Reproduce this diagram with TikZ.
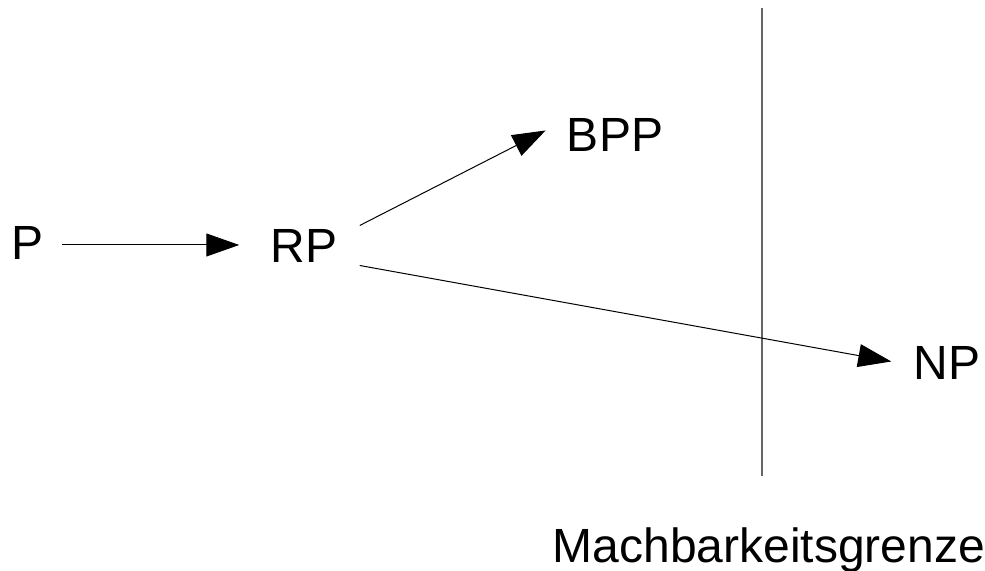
\documentclass[tikz,border=0pt]{standalone}
\usepackage{fontspec}
\setmainfont{Liberation Sans}
\usetikzlibrary{arrows.meta, positioning, calc}

\begin{document}
\begin{tikzpicture}[
	  x=0.5pt, y=-0.5pt,
	  font=\fontsize{24}{29}\selectfont,
	  cls/.style={inner sep=0pt, anchor=base},
	  arrow/.style={-{Triangle[length=16.5pt,width=11.5pt]}, line width=0.5pt},
	  border/.style={line width=0.6pt, draw=black!60}
	]
	\useasboundingbox (0,0) rectangle (985,571);
	
	% Complexity classes
	\node[cls] (p) at (28,260) {P};
	\node[cls] (rp) at (304,263) {RP};
	\node[cls] (bpp) at (615,152) {BPP};
	\node[cls] (np) at (947,380) {NP};
	\node[cls] (grenze) at (769,562) {Machbarkeitsgrenze};
	
	% Feasibility boundary
	\coordinate (gtop) at (762,8);
	\coordinate (gbot) at (762,476);
	\draw[border] (gtop) -- (gbot);
	
	% Inclusions
	\draw[arrow] ([xshift=9pt,yshift=-0.75pt]p.east) -- ([xshift=-15.5pt,yshift=0.75pt]rp.west);
	\draw[arrow] ([xshift=11pt,yshift=10.5pt]rp.east) -- ([xshift=-10.5pt,yshift=2.5pt]bpp.west);
	\draw[arrow] ([xshift=11pt,yshift=-9.5pt]rp.east) -- ([xshift=-11pt,yshift=1pt]np.west);
	
	\end{tikzpicture}
\end{document}
